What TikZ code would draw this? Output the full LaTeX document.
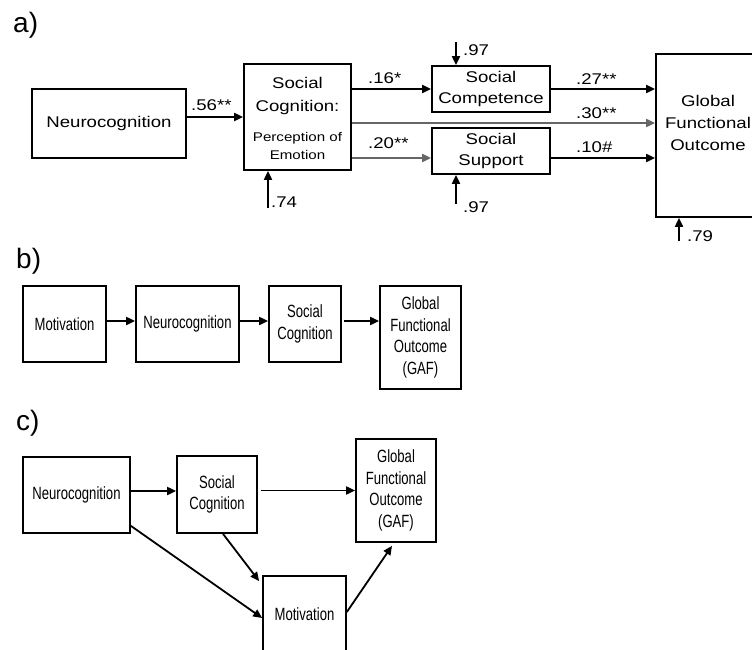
\documentclass[tikz,border=0pt]{standalone}
\usepackage{fontspec}
\setmainfont{Liberation Sans}
\newfontfamily\fa[FakeStretch=1.2]{Liberation Sans}
\newfontfamily\fb[FakeStretch=0.74]{Liberation Sans}
\usetikzlibrary{arrows.meta,calc}
\begin{document}
\begin{tikzpicture}[x=1pt,y=-1pt,
  boxa/.style={draw, line width=1.7pt, inner sep=0pt, align=center, font=\fa\fontsize{15.5}{21}\selectfont},
  boxb/.style={draw, line width=1.7pt, inner sep=0pt, align=center, font=\fb\fontsize{17.7}{21.7}\selectfont},
  arr/.style={line width=1.8pt, -{Triangle[length=9pt,width=8pt]}},
  garr/.style={arr, draw=black!60},
  lab/.style={anchor=base west, inner sep=0pt, font=\fa\fontsize{15.5}{18}\selectfont},
  panel/.style={anchor=base west, inner sep=0pt, font=\fontsize{28}{30}\selectfont}]
\useasboundingbox (0,0) rectangle (752,650);

% ---------------- panel a ----------------
\node[panel] (pa) at (13,33) {a)};
\node[boxa, minimum width=154pt, minimum height=69pt] (N1) at (109,123.5) {Neurocognition};
\node[boxa, minimum width=107pt, minimum height=106pt] (SC1) at (297.5,117) {};
\node[inner sep=0pt, align=center, font=\fa\fontsize{15.5}{23}\selectfont] (SC1t) at (297.5,96) {Social\\Cognition:};
\node[inner sep=0pt, align=center, font=\fa\fontsize{12.6}{18}\selectfont] (SC1s) at (297.5,146) {Perception of\\Emotion};
\node[boxa, minimum width=118pt, minimum height=46pt] (SComp) at (491,89) {Social\\Competence};
\node[boxa, minimum width=118pt, minimum height=46pt] (SSup) at (491,151) {Social\\Support};
\node[boxa, minimum width=104pt, minimum height=163pt] (GFO1) at (708,135.5) {};
\node[inner sep=0pt, align=center, font=\fa\fontsize{15.5}{22}\selectfont] (GFO1t) at (708,123) {Global\\Functional\\Outcome};

\coordinate (ya) at (0,158);
\draw[arr] (N1.east |- SC1.west) -- (SC1.west);
\draw[arr] (SC1.east |- SComp.west) -- (SComp.west);
\draw[garr] (SC1.east |- GFO1t) -- (GFO1.west |- GFO1t);
\draw[garr] (SC1.east |- ya) -- (SSup.west |- ya);
\draw[arr] (SComp.east) -- (SComp.east -| GFO1.west);
\draw[arr] (SSup.east |- ya) -- (GFO1.west |- ya);

\coordinate (e1) at (456,42);
\coordinate (e2) at (456,204);
\coordinate (e3) at (268,208);
\coordinate (e4) at (679,241);
\draw[arr] (e1) -- (e1 |- SComp.north);
\draw[arr] (e2) -- (e2 |- SSup.south);
\draw[arr] (e3) -- (e3 |- SC1.south);
\draw[arr] (e4) -- (e4 |- GFO1.south);

\node[lab] (l56) at (191,111) {.56**};
\node[lab] (l16) at (368,84) {.16*};
\node[lab] (l20) at (368,149) {.20**};
\node[lab] (l27) at (576,85) {.27**};
\node[lab] (l30) at (576,119) {.30**};
\node[lab] (l10) at (576,153) {.10\#};
\node[lab] (l97a) at (463,56) {.97};
\node[lab] (l97b) at (463,212) {.97};
\node[lab] (l74) at (271,207) {.74};
\node[lab] (l79) at (687,241) {.79};

% ---------------- panel b ----------------
\node[panel] (pb) at (16,268) {b)};
\node[boxb, minimum width=83pt, minimum height=76pt] (MotB) at (64.5,324) {Motivation};
\node[boxb, minimum width=103pt, minimum height=76pt] (NeuB) at (187.5,324) {Neurocognition};
\node[boxb, minimum width=72pt, minimum height=76pt] (SCB) at (305,324) {Social\\Cognition};
\node[boxb, minimum width=81pt, minimum height=103pt] (GFOB) at (420.5,337.5) {Global\\Functional\\Outcome\\(GAF)};
\draw[arr] ([yshift=3pt]MotB.east) -- ([yshift=3pt]MotB.east -| NeuB.west);
\draw[arr] ([yshift=3pt]NeuB.east) -- ([yshift=3pt]NeuB.east -| SCB.west);
\draw[arr] ([xshift=2pt,yshift=3pt]SCB.east) -- ([yshift=3pt]SCB.east -| GFOB.west);

% ---------------- panel c ----------------
\node[panel] (pc) at (16,430) {c)};
\node[boxb, minimum width=107pt, minimum height=76pt] (NeuC) at (76.5,495) {Neurocognition};
\node[boxb, minimum width=80pt, minimum height=77pt] (SCC) at (217,494.5) {Social\\Cognition};
\node[boxb, minimum width=80pt, minimum height=103pt] (GFOC) at (396,490.5) {Global\\Functional\\Outcome\\(GAF)};
\node[boxb, minimum width=83pt, minimum height=76pt] (MotC) at (304.5,614) {Motivation};
\draw[arr] ([yshift=4pt]NeuC.east) -- ([yshift=4pt]NeuC.east -| SCC.west);
\draw[arr] ([xshift=3pt,yshift=4pt]SCC.east) -- ([yshift=4pt]SCC.east -| GFOC.west);
\draw[arr] ([yshift=8pt]NeuC.south east) -- ([yshift=-4pt]MotC.west);
\draw[arr] ([xshift=6pt]SCC.south) -- ([shift={(-3pt,-6pt)}]MotC.north west);
\draw[arr] ([yshift=2pt]MotC.east) -- ([shift={(-4pt,-3pt)}]GFOC.south);
\end{tikzpicture}
\end{document}
